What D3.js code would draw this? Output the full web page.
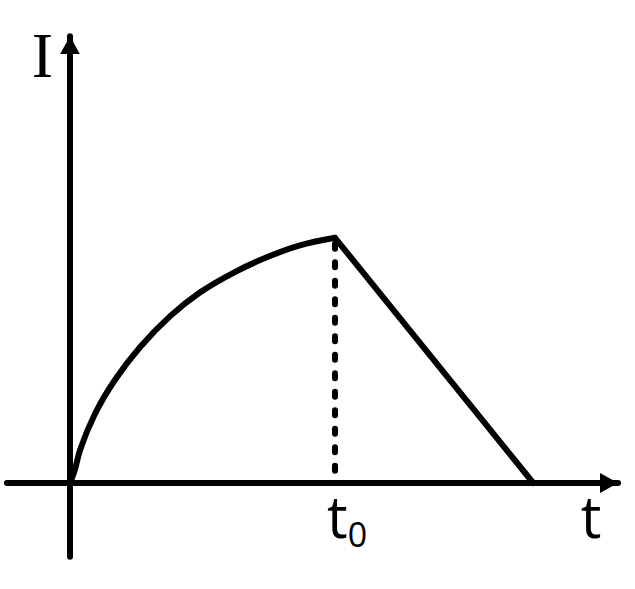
<!DOCTYPE html>
<html>
<head>
<meta charset="utf-8">
<script src="https://cdn.jsdelivr.net/npm/d3@7"></script>
<style>
  body { margin: 0; background: #fff; }
</style>
</head>
<body>
<div id="chart"></div>
<script>
// rising part of I(t) (t in units, I in units)
var riseT = [0, 0.09, 0.19, 0.47, 0.85, 1.32, 1.89, 2.45, 3.11, 3.77, 4.34, 5.00];
var riseI = [0, 0.29, 0.74, 1.55, 2.32, 3.05, 3.75, 4.28, 4.74, 5.10, 5.34, 5.51];
// linear fall after t0
var fallT = [5.00, 8.74];
var fallI = [5.51, 0];
var t0 = 5.00;
var xExtent = [-1.19, 10.34];
var yExtent = [-1.66, 10.04];
var labels = { y: "I", x: "t", t0: "t", sub: "0" };

var width = 635, height = 589;

var svg = d3.select("#chart")
    .append("svg")
    .attr("width", width)
    .attr("height", height);

// scales
var x = d3.scaleLinear().domain([0, 10]).range([70, 600]);
var y = d3.scaleLinear().domain([0, 10]).range([483, 38]);

// arrow head
svg.append("defs").append("marker")
    .attr("id", "arrow")
    .attr("viewBox", "0 -11 20 22")
    .attr("refX", 18)
    .attr("refY", 0)
    .attr("markerWidth", 20)
    .attr("markerHeight", 22)
    .attr("markerUnits", "userSpaceOnUse")
    .attr("orient", "auto")
    .append("path")
    .attr("d", "M0,-10L18,0L0,10Z")
    .attr("fill", "#000");

// axes
svg.append("line")
    .attr("x1", x(xExtent[0])).attr("x2", x(xExtent[1]))
    .attr("y1", y(0)).attr("y2", y(0))
    .attr("stroke", "#000").attr("stroke-width", 6)
    .attr("stroke-linecap", "round")
    .attr("marker-end", "url(#arrow)");

svg.append("line")
    .attr("x1", x(0)).attr("x2", x(0))
    .attr("y1", y(yExtent[0])).attr("y2", y(yExtent[1]))
    .attr("stroke", "#000").attr("stroke-width", 6)
    .attr("stroke-linecap", "round")
    .attr("marker-end", "url(#arrow)");

// dashed drop line at t0
svg.append("line")
    .attr("x1", x(t0)).attr("x2", x(t0))
    .attr("y1", y(riseI[riseI.length - 1]) + 6).attr("y2", y(0))
    .attr("stroke", "#000").attr("stroke-width", 6)
    .attr("stroke-linecap", "round")
    .attr("stroke-dasharray", "5,13.5");

// curves
var rise = riseT.map(function (d, i) { return [d, riseI[i]]; });
var fall = fallT.map(function (d, i) { return [d, fallI[i]]; });

var line = d3.line()
    .x(function (d) { return x(d[0]); })
    .y(function (d) { return y(d[1]); });

svg.append("path")
    .datum(rise)
    .attr("d", line.curve(d3.curveCatmullRom.alpha(0.5)))
    .attr("fill", "none")
    .attr("stroke", "#000")
    .attr("stroke-width", 6)
    .attr("stroke-linecap", "round");

svg.append("path")
    .datum(fall)
    .attr("d", line.curve(d3.curveLinear))
    .attr("fill", "none")
    .attr("stroke", "#000")
    .attr("stroke-width", 6)
    .attr("stroke-linecap", "round");

// labels
svg.append("text")
    .attr("x", 42.5)
    .attr("y", 77)
    .attr("text-anchor", "middle")
    .style("font-family", "'Liberation Serif', serif")
    .style("font-size", "64px")
    .text(labels.y);

svg.append("text")
    .attr("x", 591)
    .attr("y", 538)
    .attr("text-anchor", "middle")
    .style("font-family", "'Open Sans', sans-serif")
    .style("font-size", "58px")
    .text(labels.x);

var t0Label = svg.append("text")
    .attr("x", x(t0) - 8)
    .attr("y", 538)
    .style("font-family", "'Open Sans', sans-serif")
    .style("font-size", "58px");
t0Label.append("tspan").text(labels.t0);
t0Label.append("tspan")
    .attr("y", 547)
    .style("font-size", "34px")
    .text(labels.sub);
</script>
</body>
</html>
